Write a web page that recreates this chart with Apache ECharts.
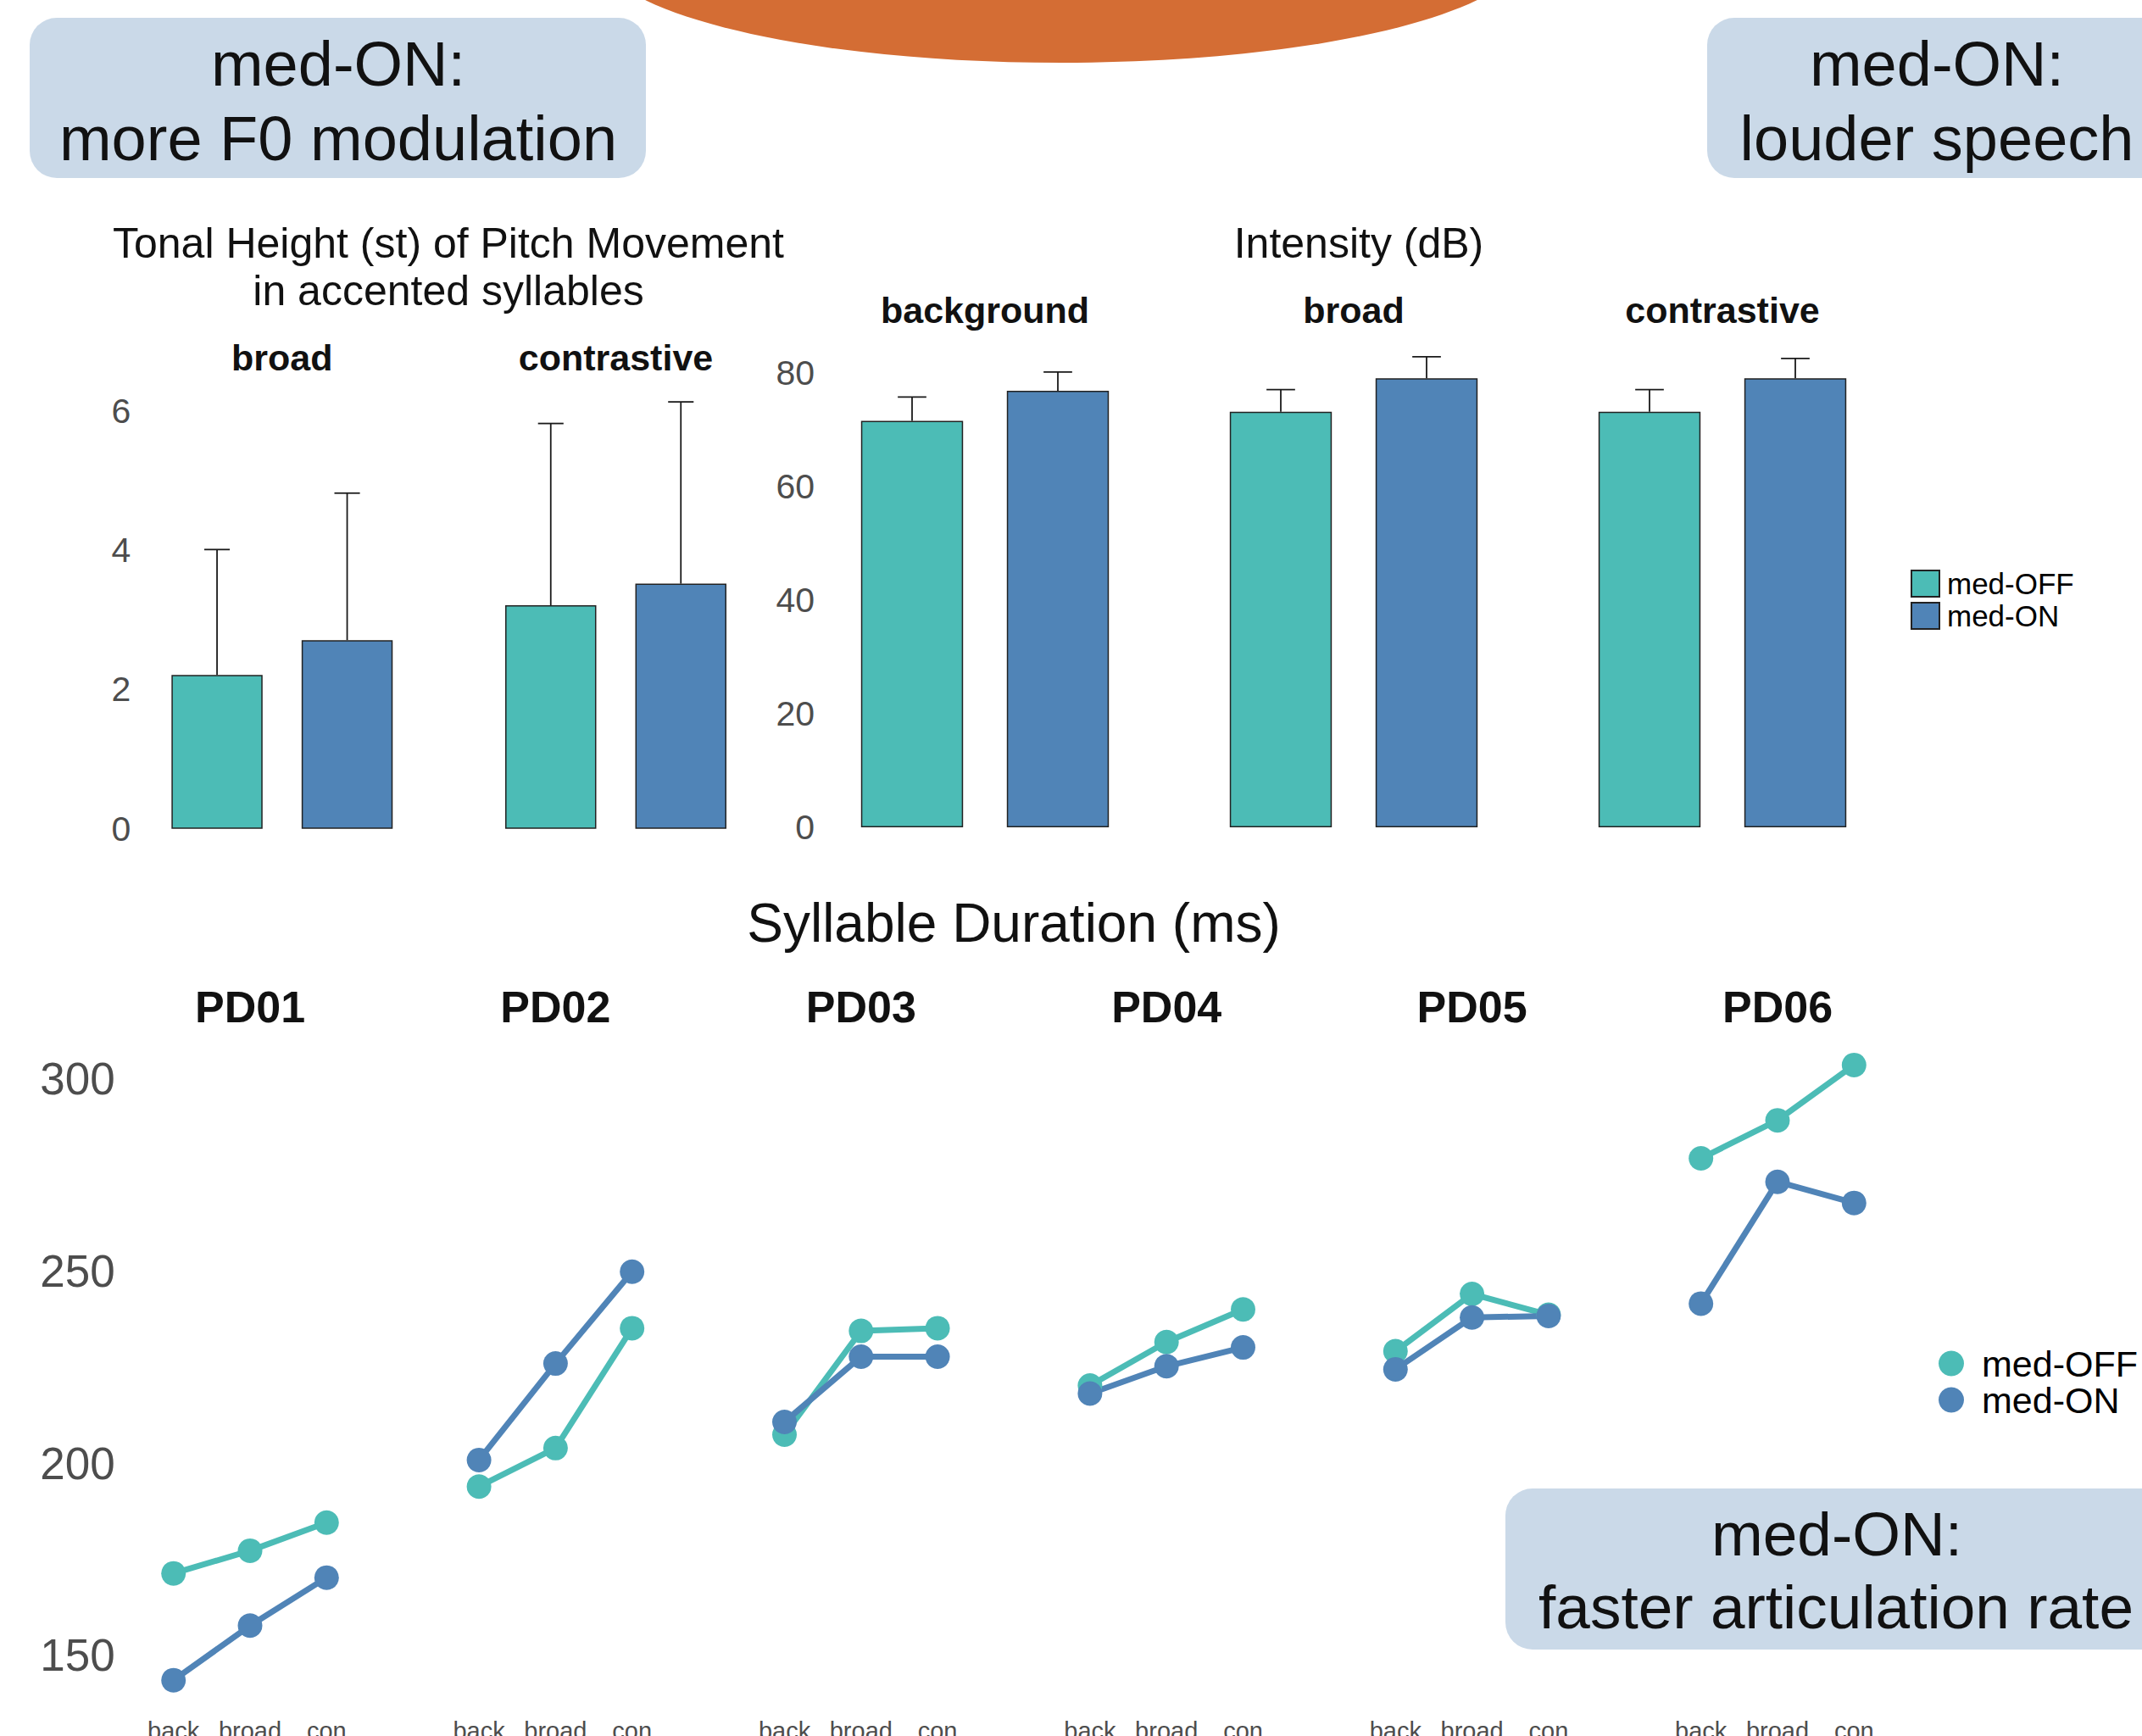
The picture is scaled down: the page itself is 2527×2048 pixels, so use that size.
<!DOCTYPE html>
<html>
<head>
<meta charset="utf-8">
<title>med-OFF vs med-ON</title>
<script src="https://cdn.jsdelivr.net/npm/echarts@6.0.0/dist/echarts.min.js"></script>
<style>
  html, body { margin: 0; padding: 0; background: #fff; }
  #chart { width: 2527px; height: 2048px; }
</style>
</head>
<body>
<div id="chart"></div>
<script>
const groups = ['med-OFF', 'med-ON']

// tonal height (st) of pitch movement, mean and top of the error bar
const toneFacets = ['broad', 'contrastive']
const toneOff = [2.21, 3.21]
const toneOffTop = [4.01, 5.82]
const toneOn = [2.71, 3.52]
const toneOnTop = [4.82, 6.13]
const toneTicks = [0, 2, 4, 6]

// intensity (dB)
const intFacets = ['background', 'broad', 'contrastive']
const intOff = [71.6, 73.2, 73.2]
const intOffTop = [75.8, 77.1, 77.1]
const intOn = [76.9, 79.1, 79.1]
const intOnTop = [80.2, 82.9, 82.6]
const intTicks = [0, 20, 40, 60, 80]

// syllable duration (ms) per speaker
const speakers = ['PD01', 'PD02', 'PD03', 'PD04', 'PD05', 'PD06']
const focus = ['back', 'broad', 'con']
const durOff = [
  [171.3, 177.2, 184.5],
  [193.9, 203.9, 235.1],
  [207.4, 234.4, 235.1],
  [220.2, 231.5, 240.0],
  [229.1, 244.0, 238.6],
  [279.3, 289.2, 303.6]
]
const durOn = [
  [143.5, 157.7, 170.2],
  [200.8, 225.9, 249.8],
  [210.7, 227.7, 227.7],
  [218.1, 225.2, 230.1],
  [224.4, 237.9, 238.3],
  [241.5, 273.2, 267.7]
]
const durTicks = [150, 200, 250, 300]

const FONT = '"Liberation Sans", Arial, Helvetica, sans-serif'
const colOff = '#4cbcb6'
const colOn = '#5084b7'
const boxBlue = '#cad9e8'

const option = {
  animation: false,
  backgroundColor: '#fff',
  textStyle: { fontFamily: FONT },
  grid: [],
  xAxis: [],
  yAxis: [],
  series: [],
  legend: [],
  graphic: []
}

// upward error bar with a small cap
function renderErr (params, api) {
  const base = api.coord([api.value(0), api.value(1)])
  const top = api.coord([api.value(0), api.value(2)])
  const half = api.size([1, 0])[0] * 0.7 * 0.14
  const st = { stroke: '#1a1a1a', lineWidth: 1.8 }
  return {
    type: 'group',
    children: [
      { type: 'line', shape: { x1: base[0], y1: base[1], x2: top[0], y2: top[1] }, style: st },
      { type: 'line', shape: { x1: top[0] - half, y1: top[1], x2: top[0] + half, y2: top[1] }, style: st }
    ]
  }
}

function valueAxis (k, ticks, show, margin, size) {
  return {
    type: 'value',
    gridIndex: k,
    min: ticks[0],
    max: ticks[ticks.length - 1],
    interval: ticks[1] - ticks[0],
    show: show,
    axisLine: { show: false },
    axisTick: { show: false },
    splitLine: { show: false },
    axisLabel: { show: show, margin: margin, fontSize: size, color: '#4d4d4d', fontFamily: FONT }
  }
}

function addBarFacet (box, ticks, i, off, offTop, on, onTop, showY, margin) {
  const k = option.grid.length
  option.grid.push({ left: box[0], top: box[1], width: box[2], height: box[3], containLabel: false, outerBoundsMode: 'none' })
  option.xAxis.push({ type: 'category', gridIndex: k, data: groups, show: false })
  option.yAxis.push(valueAxis(k, ticks, showY, margin, 41))
  option.series.push({
    name: groups[0], type: 'bar', xAxisIndex: k, yAxisIndex: k,
    data: [off[i], '-'], barWidth: '70%', barGap: '-100%',
    itemStyle: { color: colOff, borderColor: '#222', borderWidth: 1.5 }
  })
  option.series.push({
    name: groups[1], type: 'bar', xAxisIndex: k, yAxisIndex: k,
    data: ['-', on[i]], barWidth: '70%', barGap: '-100%',
    itemStyle: { color: colOn, borderColor: '#222', borderWidth: 1.5 }
  })
  option.series.push({
    type: 'custom', xAxisIndex: k, yAxisIndex: k, clip: false, z: 4,
    encode: { x: 0, y: 1 },
    renderItem: renderErr,
    data: [[0, off[i], offTop[i]], [1, on[i], onTop[i]]]
  })
}

function text (str, x, y, size, weight) {
  return {
    type: 'text', x: x, y: y, z: 20,
    style: {
      text: str, fill: '#111', fontSize: size, fontWeight: weight || 'normal', fontFamily: FONT,
      align: 'center', verticalAlign: 'middle', textAlign: 'center', textVerticalAlign: 'middle'
    }
  }
}

// tonal height facets
const toneBoxes = [[179.3, 484.8, 307, 493], [573, 484.8, 307, 493]]
toneFacets.forEach(function (f, i) {
  addBarFacet(toneBoxes[i], toneTicks, i, toneOff, toneOffTop, toneOn, toneOnTop, i === 0, 25)
  option.graphic.push(text(f, toneBoxes[i][0] + toneBoxes[i][2] / 2, 422, 43, 'bold'))
})

// intensity facets
const intBoxes = [[990, 440.3, 344, 535.7], [1425, 440.3, 344, 535.7], [1860, 440.3, 344, 535.7]]
intFacets.forEach(function (f, i) {
  addBarFacet(intBoxes[i], intTicks, i, intOff, intOffTop, intOn, intOnTop, i === 0, 29)
  option.graphic.push(text(f, intBoxes[i][0] + intBoxes[i][2] / 2, 366, 43, 'bold'))
})

// duration facets
speakers.forEach(function (sp, i) {
  const k = option.grid.length
  const left = 204.7 + 360.4 * i
  option.grid.push({ left: left, top: 1272.7, width: 180.6, height: 680, containLabel: false, outerBoundsMode: 'none' })
  option.xAxis.push({
    type: 'category', gridIndex: k, data: focus, boundaryGap: false,
    axisLine: { show: false }, axisTick: { show: false }, splitLine: { show: false },
    axisLabel: { interval: 0, margin: 75, fontSize: 29, color: '#4d4d4d', fontFamily: FONT }
  })
  option.yAxis.push(valueAxis(k, durTicks, i === 0, 69, 53))
  option.series.push({
    name: groups[0], type: 'line', xAxisIndex: k, yAxisIndex: k, clip: false,
    data: durOff[i], symbol: 'circle', symbolSize: 29,
    lineStyle: { width: 7, color: colOff }, itemStyle: { color: colOff }
  })
  option.series.push({
    name: groups[1], type: 'line', xAxisIndex: k, yAxisIndex: k, clip: false,
    data: durOn[i], symbol: 'circle', symbolSize: 29,
    lineStyle: { width: 7, color: colOn }, itemStyle: { color: colOn }
  })
  option.graphic.push(text(sp, left + 90.3, 1188, 52, 'bold'))
})

// legend text sits 5px after the item box, so the box is made wider
// than the icon to get the wider gap of the original
option.legend.push({
  data: groups, orient: 'vertical', left: 2254, top: 671, padding: 0,
  icon: 'path://M0,0h33v31h-33z', symbolKeepAspect: true,
  itemWidth: 41, itemHeight: 31, itemGap: 3,
  selectedMode: false,
  textStyle: { fontSize: 35, lineHeight: 32, color: '#000', fontFamily: FONT }
})
// here the gap comes from left padding on the label
option.legend.push({
  data: groups, orient: 'vertical', left: 2287, top: 1587, padding: 0,
  icon: 'circle',
  itemWidth: 30, itemHeight: 30, itemGap: 0,
  selectedMode: false,
  itemStyle: { borderWidth: 0 },
  textStyle: { fontSize: 43, lineHeight: 36, padding: [0, 0, 0, 16], color: '#000', fontFamily: FONT }
})

// titles
option.graphic.push(text('Tonal Height (st) of Pitch Movement', 529, 287, 50))
option.graphic.push(text('in accented syllables', 529, 343, 50))
option.graphic.push(text('Intensity (dB)', 1603, 287, 50))
option.graphic.push(text('Syllable Duration (ms)', 1196, 1089, 64))

// poster decorations: orange shape and the blue note boxes
option.graphic.push({ type: 'ellipse', z: 1, shape: { cx: 1252, cy: -61, rx: 550, ry: 135 }, style: { fill: '#d46d34' } })
option.graphic.push({ type: 'rect', z: 1, shape: { x: 35, y: 21, width: 727, height: 189, r: 32 }, style: { fill: boxBlue } })
option.graphic.push({ type: 'rect', z: 1, shape: { x: 2014, y: 21, width: 560, height: 189, r: 32 }, style: { fill: boxBlue } })
option.graphic.push({ type: 'rect', z: 1, shape: { x: 1776, y: 1756, width: 800, height: 190, r: 32 }, style: { fill: boxBlue } })
option.graphic.push(text('med-ON:', 399, 75, 74))
option.graphic.push(text('more F0 modulation', 399, 163, 74))
option.graphic.push(text('med-ON:', 2285, 75, 74))
option.graphic.push(text('louder speech', 2285, 163, 74))
option.graphic.push(text('med-ON:', 2167, 1809, 73))
option.graphic.push(text('faster articulation rate', 2166, 1895, 73))

const myChart = echarts.init(document.getElementById('chart'), null, { renderer: 'svg' })
myChart.setOption(option)
</script>
</body>
</html>
